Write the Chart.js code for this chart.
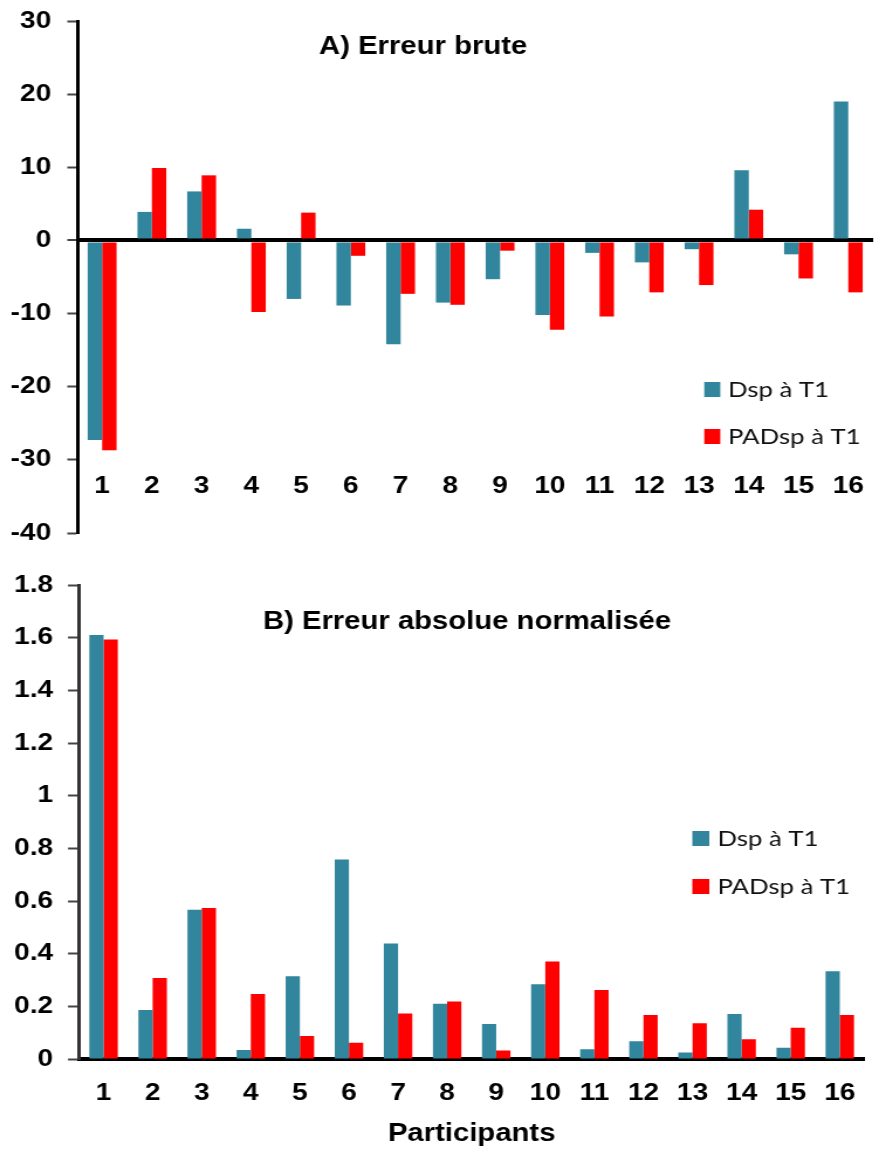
<!DOCTYPE html>
<html>
<head>
<meta charset="utf-8">
<script src="https://cdn.jsdelivr.net/npm/chart.js@4.4.1/dist/chart.umd.min.js"></script>
<style>
body{margin:0;background:#fff}
canvas{display:block}
</style>
</head>
<body>
<canvas id="chartA" width="751" height="548" style="width:879px;height:548px"></canvas>
<canvas id="chartB" width="751" height="601" style="width:879px;height:601px"></canvas>
<script>
// participants 1..16
const participants=['1','2','3','4','5','6','7','8','9','10','11','12','13','14','15','16'];
const seriesNames=['Dsp à T1','PADsp à T1'];
const colors=['#31859C','#FF0000'];

// A) erreur brute
const bruteDsp=[-27.3,3.9,6.7,1.6,-8.0,-8.9,-14.2,-8.5,-5.3,-10.2,-1.7,-3.0,-1.2,9.6,-1.9,19.0];
const brutePAD=[-28.7,9.9,8.9,-9.8,3.8,-2.1,-7.3,-8.8,-1.4,-12.2,-10.4,-7.1,-6.1,4.2,-5.2,-7.1];

// B) erreur absolue normalisée
const normDsp=[1.61,0.186,0.567,0.034,0.314,0.758,0.439,0.21,0.133,0.284,0.037,0.067,0.025,0.171,0.043,0.333];
const normPAD=[1.593,0.308,0.573,0.247,0.087,0.062,0.173,0.218,0.032,0.37,0.262,0.167,0.136,0.075,0.119,0.167];

Chart.defaults.font.family='"Liberation Sans", Arial, sans-serif';
Chart.defaults.color='#000';

// title + legend drawn inside the plot area
const overlay={id:'overlay',afterDraw(chart,args,o){
  const ctx=chart.ctx;
  ctx.save();
  ctx.font='bold 25px "Liberation Sans", Arial';
  ctx.fillStyle='#000';
  ctx.textAlign='center';
  ctx.textBaseline='alphabetic';
  ctx.fillText(o.title,o.tx,o.ty);
  ctx.font='22px Lato';
  ctx.textAlign='left';
  chart.data.datasets.forEach((d,i)=>{
    const y=o.ly+i*o.gap;
    ctx.fillStyle=d.backgroundColor;
    ctx.fillRect(o.lx,y,o.bw,15);
    ctx.fillStyle='#111';
    ctx.fillText(d.label,o.tx2,y+15);
  });
  ctx.restore();
}};

const tickFont={size:24,weight:'bold'};

function ds(a,b){
  return [a,b].map((d,i)=>({label:seriesNames[i],data:d,backgroundColor:colors[i],
    categoryPercentage:0.58,barPercentage:1}));
}

// y axis: fixed width, no extra room for the end labels
function fixY(w){
  return s=>{s.width=w;s.paddingTop=0;s.paddingBottom=0;};
}

new Chart(document.getElementById('chartA'),{
  type:'bar',
  data:{labels:participants,datasets:ds(bruteDsp,brutePAD)},
  plugins:[overlay],
  options:{
    responsive:false,animation:false,devicePixelRatio:1,
    layout:{padding:{top:21,right:5,bottom:15,left:0}},
    plugins:{legend:{display:false},tooltip:{enabled:false},
      overlay:{title:'A) Erreur brute',tx:361.5,ty:54,lx:601.7,ly:382,gap:47,bw:13.7,tx2:622}},
    scales:{
      x:{position:{y:-30},grid:{display:false,drawTicks:false},border:{display:false},
        ticks:{font:tickFont,padding:12,maxRotation:0,autoSkip:false},
        afterFit(s){s.height=0;}},
      y:{min:-40,max:30,z:1,
        ticks:{stepSize:10,font:tickFont,padding:13.7},
        grid:{color:c=>c.tick&&c.tick.value===0?'#000':'rgba(0,0,0,0)',
          lineWidth:c=>c.tick&&c.tick.value===0?4:1,
          tickLength:8.5,tickColor:'#444',tickWidth:2},
        border:{color:'#000',width:3},
        afterFit:fixY(66)}
    }
  }
});

new Chart(document.getElementById('chartB'),{
  type:'bar',
  data:{labels:participants,datasets:ds(normDsp,normPAD)},
  plugins:[overlay],
  options:{
    responsive:false,animation:false,devicePixelRatio:1,
    layout:{padding:{top:37,right:5,bottom:0,left:0}},
    plugins:{legend:{display:false},tooltip:{enabled:false},
      overlay:{title:'B) Erreur absolue normalisée',tx:399,ty:81,lx:591.5,ly:283,gap:48,bw:14.5,tx2:613}},
    scales:{
      x:{grid:{display:false,drawTicks:false},border:{color:'#000',width:4},
        ticks:{font:tickFont,padding:20,maxRotation:0,autoSkip:false},
        title:{display:true,text:'Participants',font:{size:25,weight:'bold'},padding:0},
        afterFit(s){s.height=90;}},
      y:{min:0,max:1.8,
        ticks:{stepSize:0.2,font:tickFont,padding:12.7,callback:v=>String(Math.round(v*10)/10)},
        grid:{drawOnChartArea:false,tickLength:9.4,tickColor:'#444',tickWidth:2},
        border:{color:'#333',width:3},
        afterFit:fixY(67.5)}
    }
  }
});
document.querySelectorAll('canvas').forEach(c=>{c.style.width='879px';});
</script>
</body>
</html>
